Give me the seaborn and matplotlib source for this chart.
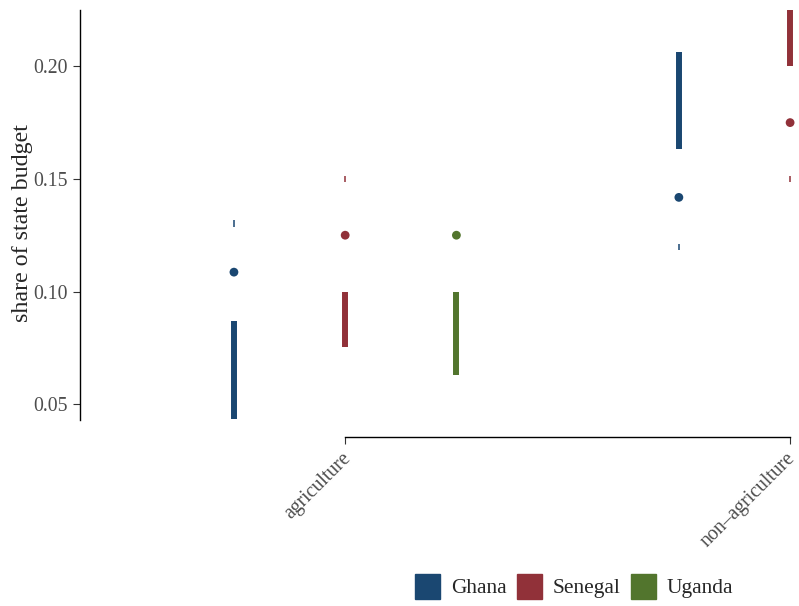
import numpy as np
import pandas as pd
import matplotlib
matplotlib.use("Agg")
import matplotlib.pyplot as plt
import matplotlib.transforms as mtransforms
import seaborn as sns
from matplotlib.lines import Line2D

sns.set_style("white")
plt.rcParams["font.family"] = ["Liberation Serif", "DejaVu Serif"]

# values
sector = ["agriculture", "agriculture", "agriculture", "non-agriculture", "non-agriculture"]
country = ["Ghana", "Senegal", "Uganda", "Ghana", "Senegal"]
median = [0.1086, 0.125, 0.125, 0.1418, 0.175]
thick_lo = [0.0435, 0.0753, 0.0629, 0.1631, 0.200]
thick_hi = [0.0868, 0.100, 0.100, 0.2062, 0.240]
thin_lo = [0.1286, 0.1487, np.nan, 0.1185, 0.1487]
thin_hi = [0.1317, 0.1513, np.nan, 0.1210, 0.1513]

sectors = ["agriculture", "non-agriculture"]
countries = ["Ghana", "Senegal", "Uganda"]
palette = {"Ghana": "#1a4771", "Senegal": "#913139", "Uganda": "#52752d"}

df = pd.DataFrame({"sector": sector, "country": country, "median": median,
                   "thick_lo": thick_lo, "thick_hi": thick_hi,
                   "thin_lo": thin_lo, "thin_hi": thin_hi})
dodge = {"Ghana": -0.25, "Senegal": 0.0, "Uganda": 0.25}
df["x"] = df["sector"].map({s: i for i, s in enumerate(sectors)}) + df["country"].map(dodge)

fig = plt.figure(figsize=(7.99, 6.06), dpi=100)
ax = fig.add_axes([80 / 799, 1 - 437 / 606, 719 / 799, 427 / 606])

for _, r in df.iterrows():
    c = palette[r["country"]]
    ax.vlines(r["x"], r["thick_lo"], r["thick_hi"], color=c, lw=4.3)
    if not np.isnan(r["thin_lo"]):
        ax.vlines(r["x"], r["thin_lo"], r["thin_hi"], color=c, lw=1.1)

sns.scatterplot(data=df, x="x", y="median", hue="country", palette=palette,
                s=40, edgecolor="none", legend=False, ax=ax, zorder=3)

ax.set_xlim(-0.596, 1.02)
ax.set_ylim(0.0354, 0.225)
ax.set_xticks([0, 1])
ax.set_xticklabels([s.replace("-", "\u2013") for s in sectors], rotation=45,
                   ha="right", va="top", rotation_mode="anchor")
ax.set_yticks([0.05, 0.10, 0.15, 0.20])
ax.set_yticklabels(["0.05", "0.10", "0.15", "0.20"])
ax.tick_params(axis="both", direction="out", length=5, width=0.8, color="#333333",
               labelsize=14.2, labelcolor="#4d4d4d", left=True, bottom=True, pad=4)
# nudge rotated labels a little left so the last one stays inside the figure
shift = mtransforms.ScaledTranslation(-4 / 100, 0, fig.dpi_scale_trans)
for lab in ax.get_xticklabels():
    lab.set_transform(lab.get_transform() + shift)
for sp in ["top", "right"]:
    ax.spines[sp].set_visible(False)
ax.spines["left"].set_bounds(0.0429, 0.225)
ax.spines["bottom"].set_bounds(0, 1)
for sp in ["left", "bottom"]:
    ax.spines[sp].set_color("black")
    ax.spines[sp].set_linewidth(1)
ax.set_xlabel("")
ax.set_ylabel("share of state budget", fontsize=17.3, labelpad=0)

handles = [Line2D([0], [0], marker="s", ls="", markersize=18, color=palette[c]) for c in countries]
fig.legend(handles, countries, loc="center", bbox_to_anchor=(572 / 799, 1 - 588 / 606),
           ncol=3, frameon=False, fontsize=15.4, handletextpad=0.35, columnspacing=0.3,
           handlelength=1.5)

fig.savefig("out.png", dpi=100)
